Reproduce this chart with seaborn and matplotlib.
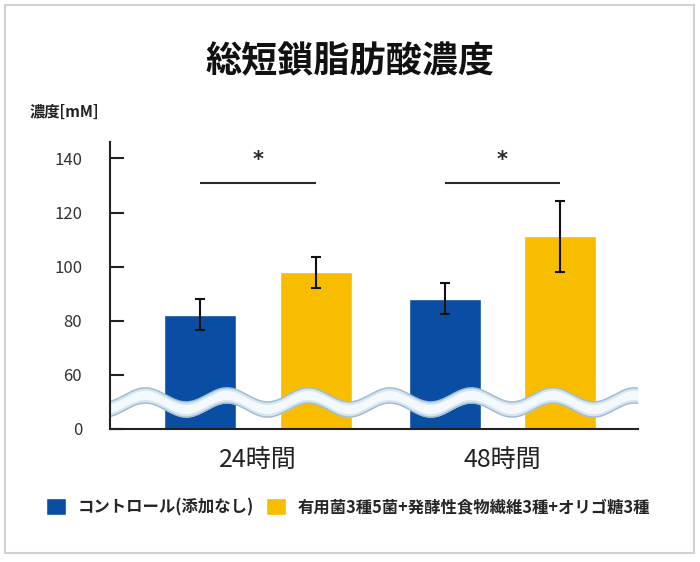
import matplotlib
matplotlib.use('Agg')
import matplotlib.pyplot as plt
from matplotlib.patches import Rectangle
import seaborn as sns
import pandas as pd
import numpy as np

# data
times = ['24時間', '48時間']
groups = ['コントロール(添加なし)', '有用菌3種5菌+発酵性食物繊維3種+オリゴ糖3種']
control_mean = [82.3, 88.2]
control_err = [5.6, 5.6]
treat_mean = [98.0, 111.2]
treat_err = [5.7, 13.1]
colors = ['#0a4ea3', '#f9bd00']

# broken axis: the "0" label sits where 40 would be
ytick_pos = [40, 60, 80, 100, 120, 140]
ytick_lab = ['0', '60', '80', '100', '120', '140']

sns.set_style('white')
plt.rcParams['font.family'] = ['Noto Sans CJK JP', 'DejaVu Sans']

df = pd.DataFrame({
    'time': times * 2,
    'group': [groups[0]] * 2 + [groups[1]] * 2,
    'value': control_mean + treat_mean,
})

fig, ax = plt.subplots(figsize=(7, 5.62), dpi=100)
fig.patch.set_facecolor('white')
ax.set_position([0.1571, 0.2367, 0.7543, 0.5102])

sns.barplot(data=df, x='time', y='value', hue='group', order=times, hue_order=groups,
            palette=dict(zip(groups, colors)), width=0.945, gap=0.377,
            errorbar=None, saturation=1, ax=ax)

# error bars on top of each bar
errs = [control_err, treat_err]
centers = []
for cont, err in zip(ax.containers, errs):
    xs = [b.get_x() + b.get_width() / 2 for b in cont]
    hs = [b.get_height() for b in cont]
    centers.append(xs)
    ax.errorbar(xs, hs, yerr=err, fmt='none', ecolor='#111111',
                elinewidth=1.5, capsize=3.5, capthick=1.5, zorder=4)

# significance brackets
for i in range(len(times)):
    ax.plot([centers[0][i], centers[1][i]], [130.8, 130.8], color='#2a2a2a', lw=1.5,
            solid_capstyle='butt')
    ax.text((centers[0][i] + centers[1][i]) / 2, 139.5, '*', ha='center', va='center',
            fontsize=15, fontweight='bold', color='#2a2a2a', family='DejaVu Sans')

ax.set_xlim(-0.605, 1.554)
ax.set_ylim(40, 146)
ax.set_yticks(ytick_pos)
ax.set_yticklabels(ytick_lab)

# wavy axis-break band
wx = np.linspace(-0.605, 1.554, 600)
wc = 49.8 + 2.6 * np.cos(2 * np.pi * 3 * (wx + 0.127))
ax.fill_between(wx, wc - 2.8, wc + 2.8, color='#f4f9fd', lw=0, zorder=2)
ax.plot(wx, wc + 2.2, color='#d3e6f3', lw=2, zorder=2.1)
ax.plot(wx, wc - 2.2, color='#d3e6f3', lw=2, zorder=2.1)
ax.plot(wx, wc + 2.8, color='#a3bccf', lw=1.1, zorder=2.2)
ax.plot(wx, wc - 2.8, color='#a3bccf', lw=1.1, zorder=2.2)

sns.despine(ax=ax)
for side in ['left', 'bottom']:
    ax.spines[side].set_color('#222222')
    ax.spines[side].set_linewidth(1.5)
    ax.spines[side].set_zorder(5)

ax.tick_params(axis='y', direction='in', length=10, width=1.5, color='#222222',
               pad=20, labelsize=12, labelcolor='#333333', left=True)
ax.tick_params(axis='x', length=0, pad=13, labelsize=18, labelcolor='#222222')
ax.set_xlabel('')
ax.set_ylabel('')

# legend at the bottom
leg = ax.get_legend()
handles = leg.legend_handles
leg.remove()
ax.legend(handles, groups, loc='center left', bbox_to_anchor=(46 / 700, 1 - 507 / 562),
          bbox_transform=fig.transFigure, ncol=2, frameon=False, borderpad=0,
          borderaxespad=0, handlelength=1.22, handleheight=1.22, handletextpad=0.7,
          columnspacing=0.75, prop={'size': 11.8, 'weight': 'bold'})

fig.text(0.5, 1 - 62 / 562, '総短鎖脂肪酸濃度', ha='center', va='center',
         fontsize=26, fontweight='bold', color='#111111')
fig.text(30 / 700, 1 - 112 / 562, '濃度[mM]', ha='left', va='center',
         fontsize=11, fontweight='bold', color='#222222')

# light frame around the card
fig.patches.append(Rectangle((5 / 700, 1 - 553 / 562), 689 / 700, 548 / 562,
                             transform=fig.transFigure, fill=False,
                             edgecolor='#d2d2d2', lw=1.5))

fig.savefig('out.png', dpi=100, facecolor='white')
